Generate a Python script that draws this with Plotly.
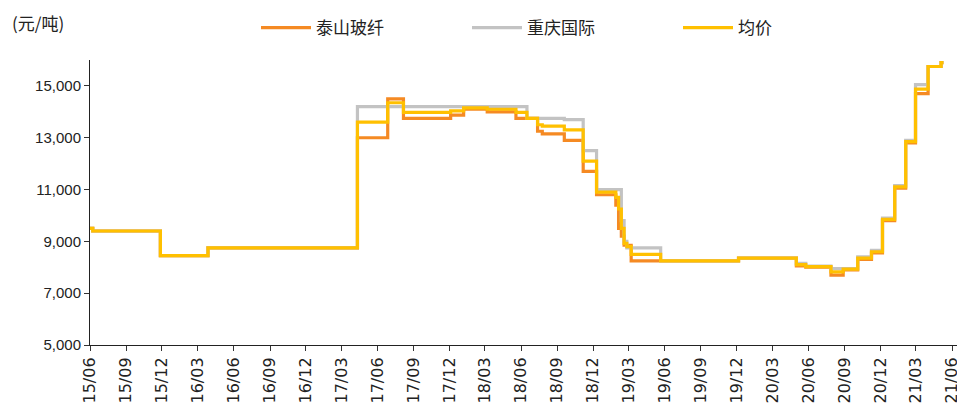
import plotly.graph_objects as go

dates = [
    "2015-06-01", "2015-06-08", "2015-11-27", "2016-03-27", "2017-04-11",
    "2017-06-27", "2017-08-06", "2017-12-04", "2018-01-06", "2018-03-07",
    "2018-05-19", "2018-06-16", "2018-07-13", "2018-07-25", "2018-09-19",
    "2018-11-06", "2018-12-10", "2019-01-28", "2019-02-04", "2019-02-11",
    "2019-02-18", "2019-02-25", "2019-03-08", "2019-05-22", "2019-12-06",
    "2020-05-01", "2020-05-25", "2020-07-28", "2020-08-28", "2020-10-04",
    "2020-11-08", "2020-12-06", "2021-01-06", "2021-02-03", "2021-02-28",
    "2021-04-01", "2021-05-04", "2021-05-10",
]
taishan = [
    9500, 9400, 8450, 8750, 13000,
    14500, 13750, 13870, 14100, 14000,
    13750, 13750, 13250, 13150, 12900,
    11700, 10800, 10400, 9500, 9200,
    8850, 8850, 8250, 8250, 8350,
    8050, 8000, 7700, 7900, 8300,
    8550, 9800, 11050, 12800, 14700,
    15750, 15900, 15900,
]
chongqing = [
    9500, 9400, 8450, 8750, 14200,
    14200, 14200, 14200, 14200, 14200,
    14200, 13750, 13750, 13750, 13700,
    12500, 11000, 11000, 11000, 9800,
    9000, 8750, 8750, 8250, 8350,
    8150, 8050, 7950, 7950, 8400,
    8650, 9900, 11150, 12900, 15050,
    15750, 15900, 15900,
]
average = [
    9500, 9400, 8450, 8750, 13600,
    14350, 13975, 14035, 14150, 14100,
    13975, 13750, 13500, 13450, 13300,
    12100, 10900, 10700, 10250, 9500,
    8925, 8800, 8500, 8250, 8350,
    8100, 8025, 7825, 7925, 8350,
    8600, 9850, 11100, 12850, 14875,
    15750, 15900, 15900,
]
series_names = ["泰山玻纤", "重庆国际", "均价"]
y_ticks = [5000, 7000, 9000, 11000, 13000, 15000]

colors = ["#F58A23", "#C3C3C3", "#FFC000"]
cjk = "Noto Sans CJK SC, sans-serif"

fig = go.Figure()
for name, vals, col in zip(series_names, [taishan, chongqing, average], colors):
    fig.add_trace(go.Scatter(
        x=dates, y=vals, name=name, mode="lines",
        line=dict(color=col, width=3.2, shape="hv"),
    ))

# page body has an 8px margin, so the figure is sized to fit the window
W, H = 957, 403
ML, MR, MT, MB = 82, 7, 52, 66
PW, PH = W - ML - MR, H - MT - MB
fig.update_layout(
    width=W, height=H,
    margin=dict(l=ML, r=MR, t=MT, b=MB, autoexpand=False),
    plot_bgcolor="white", paper_bgcolor="white",
    font=dict(family="Liberation Sans, sans-serif", size=14, color="#222222"),
    showlegend=True,
    legend=dict(
        orientation="h", xref="container", yref="container",
        x=248 / W, y=1 - 2 / H, xanchor="left", yanchor="top",
        entrywidth=146, entrywidthmode="pixels", itemwidth=50,
        font=dict(family=cjk, size=17, color="#222222"),
        tracegroupgap=0,
    ),
    annotations=[dict(
        text="(元/吨)", xref="paper", yref="paper",
        x=(2 - ML) / PW, y=(H - MB - 14) / PH,
        xanchor="left", yanchor="middle", showarrow=False,
        font=dict(family=cjk, size=17, color="#222222"),
    )],
)
fig.update_xaxes(
    type="date", range=["2015-06-01", "2021-06-16"], automargin=False,
    tick0="2015-06-01", dtick="M3", tickformat="%y/%m",
    tickangle=-90, ticks="outside", ticklen=5, tickcolor="#333333",
    showline=True, linecolor="#222222", linewidth=1,
    showgrid=False, zeroline=False,
    tickfont=dict(family="DejaVu Sans, sans-serif", size=16, color="#222222"),
)
fig.update_yaxes(
    range=[5000, 16000], tickvals=y_ticks, tickformat=",", automargin=False,
    ticks="outside", ticklen=5, tickcolor="#333333",
    showline=True, linecolor="#222222", linewidth=1,
    showgrid=False, zeroline=False,
    tickfont=dict(family="Liberation Sans, sans-serif", size=15, color="#222222"),
)
fig.write_html("out.html")
